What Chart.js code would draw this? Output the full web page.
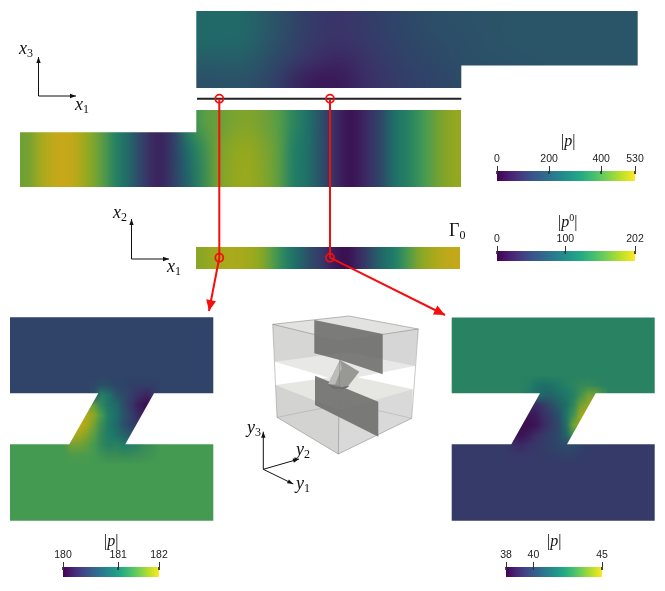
<!DOCTYPE html>
<html>
<head>
<meta charset="utf-8">
<script src="https://cdn.jsdelivr.net/npm/chart.js@4/dist/chart.umd.min.js"></script>
<style>
body { margin: 0; background: #fff; }
#page { position: relative; width: 665px; height: 591px; overflow: hidden; }
#page canvas { position: absolute; }
.m { position: absolute; font: 18px 'Liberation Serif', serif; color: #111; line-height: 20px; white-space: nowrap; }
.m.t { font-size: 16px; }
.m i { font-style: italic; }
.m sub { font-size: 12px; font-style: normal; vertical-align: -3px; line-height: 0; }
.m sup { font-size: 10px; vertical-align: 6px; line-height: 0; }
</style>
</head>
<body>
<div id="page">
  <canvas id="fig" width="665" height="591" style="left:0;top:0"></canvas>
  <canvas id="barP" width="178" height="32" style="left:477px;top:149px"></canvas>
  <canvas id="barP0" width="178" height="32" style="left:477px;top:229px"></canvas>
  <canvas id="barLeft" width="136" height="32" style="left:43px;top:545px"></canvas>
  <canvas id="barRight" width="136" height="32" style="left:486px;top:545px"></canvas>

  <div class="m" style="left:19px;top:38px"><i>x</i><sub>3</sub></div>
  <div class="m" style="left:75px;top:94px"><i>x</i><sub>1</sub></div>
  <div class="m" style="left:113px;top:202px"><i>x</i><sub>2</sub></div>
  <div class="m" style="left:167px;top:256px"><i>x</i><sub>1</sub></div>
  <div class="m" style="left:449px;top:220px">&Gamma;<sub>0</sub></div>
  <div class="m" style="left:247px;top:417px"><i>y</i><sub>3</sub></div>
  <div class="m" style="left:296px;top:439px"><i>y</i><sub>2</sub></div>
  <div class="m" style="left:296px;top:473px"><i>y</i><sub>1</sub></div>
  <div class="m t" style="left:561px;top:131px">|<i>p</i>|</div>
  <div class="m t" style="left:558px;top:212px">|<i>p</i><sup>0</sup>|</div>
  <div class="m t" style="left:104px;top:531px">|<i>p</i>|</div>
  <div class="m t" style="left:547px;top:531px">|<i>p</i>|</div>
</div>
<script>
// mapa de color de las barras
const viridis = ['#440154','#482475','#414487','#355f8d','#2a788e','#21918c','#22a884','#44bf70','#7ad151','#bddf26','#fde725'];
// los campos salen mas apagados que la barra (luz del render)
const fieldStops = [0, 0.13, 0.24, 0.33, 0.42, 0.5, 0.58, 0.62, 0.7, 0.8, 0.88, 0.97, 1];
const fieldColors = ['#3a0f50','#3b3269','#2f4468','#2a5568','#1f6e68','#1f7d68','#3a8c55','#459a52','#6a9f3a','#92a81f','#a8aa1c','#c3a81a','#c5a91a'];

// barras de color: min, max, ticks
const pRange = [0, 530];
const pTicks = [0, 200, 400, 530];
const p0Range = [0, 202];
const p0Ticks = [0, 100, 202];
const leftRange = [180, 181.74];
const leftTicks = [180, 181, 181.74];
const rightRange = [38, 45];
const rightTicks = [38, 40, 45];

// campo de arriba |p| (filas de arriba a abajo)
const topField = [
  [212,212,170,106,74,101,133,154,164,170,175,175,175,175],
  [212,207,164,101,69,95,127,148,159,170,175,175,175,175],
  [191,191,143,74,48,80,117,138,154,164,170,175,175,175],
  [164,170,117,32,21,64,106,127,143,154,164,170,170,175]
];
// campo del medio |p|
const midField = [
  [382,466,519,514,435,360,276,201,90,37,117,292,350,371,392,403,382,350,292,233,159,53,5,53,133,228,281,329,387,424],
  [382,466,519,514,435,360,276,201,90,37,117,232,312,385,418,428,400,360,276,228,159,53,5,53,133,228,281,329,387,424],
  [382,466,519,514,435,360,276,201,90,37,117,212,302,387,424,435,408,360,276,228,159,53,5,53,133,228,281,329,387,424]
];
// tira |p0|
const stripField = [
  [158,170,178,178,172,156,129,105,81,57,34,10,0,18,53,81,101,123,152,172,188,196]
];
// Z izquierda
const leftTopValue = 180.42;
const leftBottomValue = 181.08;
const leftNeck = [
  [180.42,180.42,180.42,180.42,180.42,180.42,180.42,180.42,180.42,180.42,180.42,180.42,180.42,180.42],
  [180.42,180.42,180.42,180.42,180.45,180.52,180.49,180.44,180.42,180.38,180.35,180.35,180.38,180.42],
  [180.42,180.42,180.42,180.42,180.52,180.90,180.78,180.57,180.47,180.35,180.21,180.14,180.26,180.42],
  [181.39,181.39,181.39,181.31,181.18,180.96,180.80,180.70,180.49,180.28,180.09,180,180,180],
  [181.65,181.65,181.65,181.57,181.36,181.08,180.87,180.73,180.56,180.38,180.17,180.09,180.09,180.09],
  [181.69,181.69,181.69,181.53,181.25,181.01,180.84,180.70,180.52,180.38,180.26,180.26,180.26,180.26],
  [181.57,181.57,181.48,181.32,181.15,180.97,180.87,180.77,180.66,180.59,180.70,180.70,180.70,180.70],
  [181.08,181.25,181.25,181.18,181.08,180.97,180.90,180.92,180.87,180.90,180.94,181.01,181.04,181.08],
  [181.08,181.11,181.11,181.10,181.08,181.04,181.01,181.01,180.99,181.01,181.02,181.04,181.06,181.08],
  [181.08,181.08,181.08,181.08,181.08,181.08,181.08,181.08,181.08,181.08,181.08,181.08,181.08,181.08]
];
// Z derecha
const rightTopValue = 41.7;
const rightBottomValue = 39.26;
const rightNeck = [
  [41.7,41.7,41.7,41.7,41.7,41.7,41.7,41.7,41.7,41.7,41.7,41.7,41.7,41.7],
  [41.7,41.7,41.7,41.6,41.15,40.94,41.08,41.36,41.6,41.8,41.95,42.0,41.88,41.7],
  [41.7,41.7,41.7,41.5,40.94,40.66,40.66,40.94,41.29,41.64,42.2,43.04,43.04,42.2],
  [38.35,38.35,38.35,38.56,38.7,39.26,39.96,40.52,40.94,41.85,43.04,43.74,44.3,44.3],
  [38,38,38,38.21,38.35,38.84,39.4,40.1,41.15,42.2,43.95,44.3,44.3,44.3],
  [38,38,38,38,38.21,38.7,39.26,39.89,40.94,43.04,43.95,43.95,43.95,43.95],
  [38.14,38.14,38.14,38.42,38.84,39.19,39.54,39.89,40.66,42.2,42.2,42.2,42.2,42.2],
  [39.26,38.84,38.7,38.91,39.12,39.4,39.61,39.82,39.96,39.82,39.54,39.4,39.33,39.26],
  [39.26,39.19,39.19,39.19,39.26,39.33,39.4,39.47,39.54,39.54,39.4,39.33,39.26,39.26],
  [39.26,39.26,39.26,39.26,39.26,39.26,39.26,39.26,39.26,39.26,39.26,39.26,39.26,39.26]
];

// contornos de las regiones, en las unidades del eje de la figura
const topShape = [[196.3,10.5],[637.7,10.5],[637.7,65.6],[461.3,65.6],[461.3,88],[196.3,88]];
const midShape = [[196.3,110],[461.3,110],[461.3,187],[20,187],[20,132.3],[196.3,132.3]];
const stripShape = [[195.7,247],[460.3,247],[460.3,269],[195.7,269]];
const leftZ = [[10,317.3],[213.3,317.3],[213.3,393.3],[154,393.3],[125.3,444.3],[213.3,444.3],[213.3,520.7],[10,520.7],[10,444.3],[69.3,444.3],[98.3,393.3],[10,393.3]];
const rightZ = [[451.7,317.5],[654.7,317.5],[654.7,393.3],[595.7,393.3],[567,444.3],[654.7,444.3],[654.7,520.7],[451.7,520.7],[451.7,444.3],[511.3,444.3],[540,393.3],[451.7,393.3]];

// linea y circulos rojos
const wall = [[197,98.7],[461.3,98.7]];
const probeX = [219.3, 330];
const probeTop = 98.7;
const probeBottom = 257.7;
const leftArrow = [[219.3,257.7],[209,311]];
const rightArrow = [[330,257.7],[445,315]];

// ejes dibujados
const axisArrows = [
  [[38.5,96],[38.5,57]], [[38.5,96],[76,96]],
  [[131.5,259],[131.5,219]], [[131.5,259],[169,259]],
  [[263.3,469.3],[263.3,431.7]], [[263.3,469.3],[299,459]], [[263.3,469.3],[293.3,484]]
];

// cubo
const A=[272.7,324.3], B=[349,316], C=[418.3,329], D=[340,340.7];
const L=[277,417.3], F=[338.3,454], R=[411.7,418.3], K=[346.7,403.3];
const UL=[274.7,361.7], UR=[415,366], UF=[339.3,380.7], UB=[347,352.3];
const LL=[275.7,385], LR=[412.7,389.3], LF=[339,410], LB=[347.3,375];
const upperSlab = [[314.3,320],[382.7,334],[382.7,374.3],[340,360],[314.3,353.3]];
const lowerSlab = [[315,375.7],[378.3,401.7],[378.3,436.7],[315,405]];
const neckBody = [[340,360],[359.3,371.7],[347.3,387.3],[328.3,384]];
const neckLight = [[340,360],[328.3,384],[335,384.5],[341.7,368.3]];
const neckBase = [[327.7,384],[336.7,387.3],[347.3,386],[349.3,386.5],[343.3,389.3],[333.3,388.7]];

function hexRgb(h) {
  return [1, 3, 5].map(k => parseInt(h.substr(k, 2), 16));
}

function fieldColor(t) {
  const v = Math.min(Math.max(t, 0), 1);
  let i = 0;
  while (i < fieldStops.length - 2 && v > fieldStops[i + 1]) i++;
  const f = (v - fieldStops[i]) / (fieldStops[i + 1] - fieldStops[i]);
  const a = hexRgb(fieldColors[i]), b = hexRgb(fieldColors[i + 1]);
  return a.map((c, k) => c + (b[k] - c) * f);
}

// pinta una grilla de valores estirada sobre un rectangulo
function paintLayer(chart, target, layer) {
  const rows = layer.grid.length, cols = layer.grid[0].length;
  const small = document.createElement('canvas');
  small.width = cols; small.height = rows;
  const sctx = small.getContext('2d');
  const img = sctx.createImageData(cols, rows);
  layer.grid.forEach((row, r) => row.forEach((v, c) => {
    const rgb = fieldColor((v - layer.range[0]) / (layer.range[1] - layer.range[0]));
    const o = (r * cols + c) * 4;
    img.data[o] = rgb[0];
    img.data[o + 1] = rgb[1];
    img.data[o + 2] = rgb[2];
    img.data[o + 3] = 255;
  }));
  sctx.putImageData(img, 0, 0);
  const x0 = chart.scales.x.getPixelForValue(layer.rect[0]);
  const x1 = chart.scales.x.getPixelForValue(layer.rect[2]);
  const y0 = chart.scales.y.getPixelForValue(layer.rect[1]);
  const y1 = chart.scales.y.getPixelForValue(layer.rect[3]);
  target.imageSmoothingEnabled = true;
  target.imageSmoothingQuality = layer.quality || 'high';
  target.drawImage(small, x0, y0, x1 - x0, y1 - y0);
}

function fieldFill(layers) {
  let pattern = null;
  return function (ctx) {
    const chart = ctx.chart;
    if (!chart.chartArea) return 'transparent';
    if (pattern) return pattern;
    const off = document.createElement('canvas');
    off.width = chart.width; off.height = chart.height;
    const octx = off.getContext('2d');
    layers.forEach(l => paintLayer(chart, octx, l));
    pattern = chart.ctx.createPattern(off, 'no-repeat');
    return pattern;
  };
}

const toPoints = pts => pts.map(p => ({ x: p[0], y: p[1] }));
const shape = (label, pts, fill) => ({ label, data: toPoints(pts), showLine: true, fill: 'shape', backgroundColor: fill, borderWidth: 0, pointRadius: 0, tension: 0 });
const stroke = (label, pts, color, width) => ({ label, data: toPoints(pts), showLine: true, fill: false, borderColor: color, borderWidth: width, pointRadius: 0, tension: 0 });

function arrowHead(seg, len, half) {
  const dx = seg[1][0] - seg[0][0], dy = seg[1][1] - seg[0][1];
  const n = Math.hypot(dx, dy), ux = dx / n, uy = dy / n;
  const bx = seg[1][0] - ux * len, by = seg[1][1] - uy * len;
  return [seg[1], [bx - uy * half, by + ux * half], [bx + uy * half, by - ux * half]];
}

const datasets = [
  shape('topField', topShape, fieldFill([{ rect: [196.3, 10.5, 637.7, 88], grid: topField, range: pRange }])),
  shape('midField', midShape, fieldFill([{ rect: [20, 110, 461.3, 187], grid: midField, range: pRange }])),
  shape('stripField', stripShape, fieldFill([{ rect: [195.7, 247, 460.3, 269], grid: stripField, range: p0Range }])),
  shape('leftZ', leftZ, fieldFill([
    { rect: [10, 317, 214, 394], grid: [[leftTopValue]], range: leftRange },
    { rect: [10, 444, 214, 521], grid: [[leftBottomValue]], range: leftRange },
    { rect: [60, 370, 165, 470], grid: leftNeck, range: leftRange, quality: 'low' }
  ])),
  shape('rightZ', rightZ, fieldFill([
    { rect: [451, 317, 655, 394], grid: [[rightTopValue]], range: rightRange },
    { rect: [451, 444, 655, 521], grid: [[rightBottomValue]], range: rightRange },
    { rect: [502, 370, 607, 470], grid: rightNeck, range: rightRange, quality: 'low' }
  ])),

  // cubo, de atras hacia adelante
  shape('upperBackL', [A, B, UB, UL], 'rgba(150,150,145,0.22)'),
  shape('upperBackR', [B, C, UR, UB], 'rgba(150,150,145,0.22)'),
  shape('lowerTop', [LL, LB, LR, LF], 'rgba(150,150,140,0.24)'),
  shape('lowerFrontL', [LL, LF, F, L], 'rgba(150,150,145,0.42)'),
  shape('lowerFrontR', [LF, LR, R, F], 'rgba(150,150,150,0.36)'),
  shape('upperFrontL', [A, D, UF, UL], 'rgba(150,150,145,0.22)'),
  shape('upperFrontR', [D, C, UR, UF], 'rgba(150,150,150,0.22)'),
  shape('upperTop', [A, B, C, D], 'rgba(150,150,145,0.08)'),
  shape('upperSlab', upperSlab, 'rgba(105,105,102,0.85)'),
  shape('lowerSlab', lowerSlab, 'rgba(105,105,102,0.85)'),
  shape('neckBody', neckBody, '#989895'),
  shape('neckLight', neckLight, '#bcbcb8'),
  shape('neckBase', neckBase, '#6e6e6c'),
  stroke('cubeTop', [A, B, C, D, A], 'rgba(120,120,120,0.7)', 0.7),
  stroke('cubeFront', [D, F], 'rgba(120,120,120,0.7)', 0.7),
  stroke('cubeLeft', [A, L], 'rgba(120,120,120,0.6)', 0.7),
  stroke('cubeRight', [C, R], 'rgba(120,120,120,0.6)', 0.7),
  stroke('cubeBottom', [L, F, R], 'rgba(120,120,120,0.7)', 0.7),
  stroke('cubeBack', [L, K, R], 'rgba(120,120,120,0.35)', 0.7),

  stroke('wall', wall, '#222', 2),
  stroke('probe1', [[probeX[0], probeTop], [probeX[0], probeBottom]], '#f40f0f', 2),
  stroke('probe2', [[probeX[1], probeTop], [probeX[1], probeBottom]], '#f40f0f', 2),
  stroke('leftArrow', leftArrow, '#f40f0f', 2),
  stroke('rightArrow', rightArrow, '#f40f0f', 2),
  shape('leftHead', arrowHead(leftArrow, 11, 5), '#f40f0f'),
  shape('rightHead', arrowHead(rightArrow, 11, 5), '#f40f0f'),
  {
    label: 'probes',
    data: toPoints([[probeX[0], probeTop], [probeX[1], probeTop], [probeX[0], probeBottom], [probeX[1], probeBottom]]),
    showLine: false,
    pointRadius: 4,
    pointBorderWidth: 1.8,
    pointBorderColor: '#f40f0f',
    pointBackgroundColor: 'rgba(0,0,0,0)'
  }
];
axisArrows.forEach((seg, i) => {
  datasets.push(stroke('axis' + i, seg, '#111', 1));
  datasets.push(shape('axisHead' + i, arrowHead(seg, 6, 2.2), '#111'));
});
// chart.js pinta primero el order mas alto
datasets.forEach((d, i) => { d.order = datasets.length - i; });

new Chart(document.getElementById('fig'), {
  type: 'scatter',
  data: { datasets },
  options: {
    responsive: false,
    animation: false,
    events: [],
    layout: { padding: 0, autoPadding: false },
    plugins: { legend: { display: false }, tooltip: { enabled: false } },
    scales: {
      x: { type: 'linear', min: 0, max: 665, display: false },
      y: { type: 'linear', min: 0, max: 591, reverse: true, display: false }
    }
  }
});

// barra de color con eje real
function colorBar(id, range, ticks) {
  const body = {
    label: 'bar',
    data: [{ x: range[0], y: 0 }, { x: range[1], y: 0 }, { x: range[1], y: 1 }, { x: range[0], y: 1 }],
    showLine: true,
    fill: 'shape',
    borderWidth: 0,
    pointRadius: 0,
    order: 2,
    backgroundColor: function (ctx) {
      const area = ctx.chart.chartArea;
      if (!area) return 'transparent';
      const g = ctx.chart.ctx.createLinearGradient(area.left, 0, area.right, 0);
      viridis.forEach((c, i) => g.addColorStop(i / (viridis.length - 1), c));
      return g;
    }
  };
  const marks = ticks.map(v => ({
    label: 'tick' + v,
    data: [{ x: v, y: 1 }, { x: v, y: 0.7 }],
    showLine: true,
    borderColor: '#333',
    borderWidth: 1,
    pointRadius: 0,
    clip: false,
    order: 1
  }));
  new Chart(document.getElementById(id), {
    type: 'scatter',
    data: { datasets: [body].concat(marks) },
    options: {
      responsive: false,
      animation: false,
      events: [],
      layout: { padding: { left: 20, right: 20, top: 0, bottom: 0 }, autoPadding: false },
      plugins: { legend: { display: false }, tooltip: { enabled: false } },
      scales: {
        x: {
          type: 'linear',
          position: 'top',
          min: range[0],
          max: range[1],
          afterBuildTicks: s => { s.ticks = ticks.map(v => ({ value: v })); },
          afterFit: s => { s.paddingLeft = 0; s.paddingRight = 0; s.height = 22; },
          border: { display: false },
          grid: { drawOnChartArea: false, tickLength: 5, color: '#333', tickColor: '#333' },
          ticks: {
            autoSkip: false,
            maxRotation: 0,
            padding: 1,
            color: '#222',
            font: { family: "'Liberation Sans', sans-serif", size: 10.5 },
            callback: v => String(Math.round(v))
          }
        },
        y: { type: 'linear', min: 0, max: 1, display: false }
      }
    }
  });
}

colorBar('barP', pRange, pTicks);
colorBar('barP0', p0Range, p0Ticks);
colorBar('barLeft', leftRange, leftTicks);
colorBar('barRight', rightRange, rightTicks);
</script>
</body>
</html>
